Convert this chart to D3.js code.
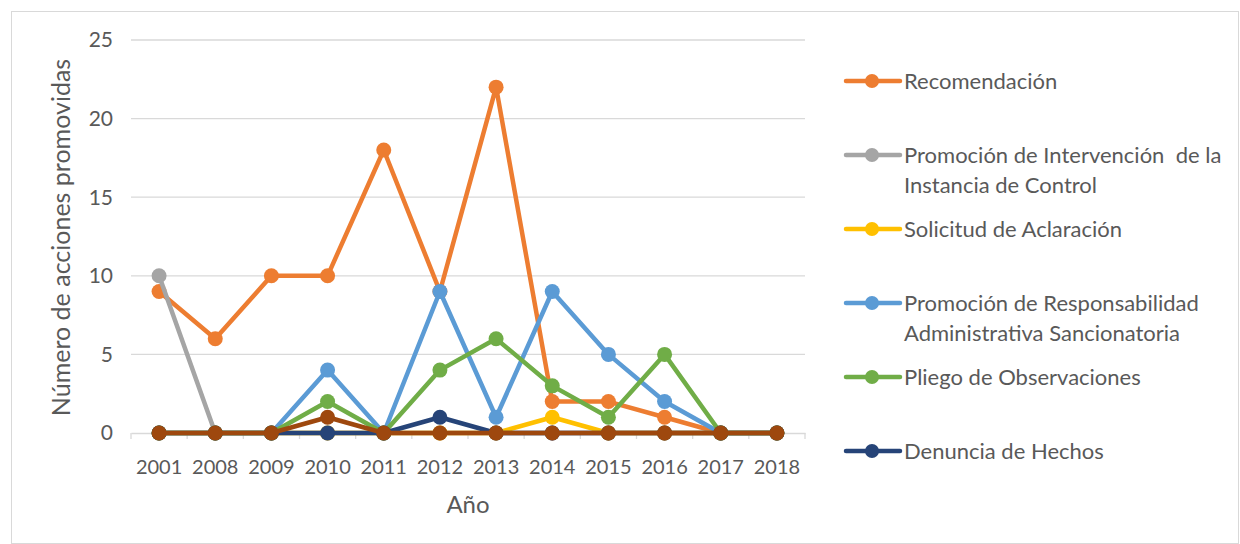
<!DOCTYPE html>
<html>
<head>
<meta charset="utf-8">
<script src="https://cdn.jsdelivr.net/npm/d3@7"></script>
<style>
  body { margin: 0; background: #fff; }
  svg text { font-family: Lato, "Open Sans", sans-serif; fill: #595959; }
</style>
</head>
<body>
<div id="chart"></div>
<script>
// data
var years = ["2001", "2008", "2009", "2010", "2011", "2012", "2013", "2014", "2015", "2016", "2017", "2018"];
var recomendacion = [9, 6, 10, 10, 18, 9, 22, 2, 2, 1, 0, 0];
var intervencion = [10, 0, 0, 0, 0, 0, 0, 0, 0, 0, 0, 0];
var aclaracion = [0, 0, 0, 0, 0, 0, 0, 1, 0, 0, 0, 0];
var responsabilidad = [0, 0, 0, 4, 0, 9, 1, 9, 5, 2, 0, 0];
var pliego = [0, 0, 0, 2, 0, 4, 6, 3, 1, 5, 0, 0];
var denuncia = [0, 0, 0, 0, 0, 1, 0, 0, 0, 0, 0, 0];
var otra = [0, 0, 0, 1, 0, 0, 0, 0, 0, 0, 0, 0];
var yTicks = [0, 5, 10, 15, 20, 25];

var series = [
    { name: ["Recomendación"], values: recomendacion, color: "#ED7D31" },
    { name: ["Promoción de Intervención  de la", "Instancia de Control"], values: intervencion, color: "#A5A5A5" },
    { name: ["Solicitud de Aclaración"], values: aclaracion, color: "#FFC000" },
    { name: ["Promoción de Responsabilidad", "Administrativa Sancionatoria"], values: responsabilidad, color: "#5B9BD5" },
    { name: ["Pliego de Observaciones"], values: pliego, color: "#70AD47" },
    { name: ["Denuncia de Hechos"], values: denuncia, color: "#264478" },
    { name: null, values: otra, color: "#9E480E" }
];
var legendY = [81, 155, 229, 303, 377, 451];

var width = 1240, height = 544;
var plot = { left: 131, right: 805, top: 40, bottom: 433 };

var svg = d3.select("#chart")
    .append("svg")
    .attr("width", width)
    .attr("height", height);

svg.append("rect")
    .attr("x", 11.5).attr("y", 11.5)
    .attr("width", width - 13).attr("height", height - 12)
    .attr("fill", "#fff")
    .attr("stroke", "#d9d9d9");

var xScale = d3.scaleBand()
    .domain(years)
    .range([plot.left, plot.right]);

var yScale = d3.scaleLinear()
    .domain([0, 25])
    .range([plot.bottom, plot.top]);

// grid
svg.append("g")
    .selectAll("line")
    .data(yTicks.filter(function(d){ return d > 0; }))
    .enter()
    .append("line")
    .attr("x1", plot.left).attr("x2", plot.right)
    .attr("y1", function(d){ return yScale(d); })
    .attr("y2", function(d){ return yScale(d); })
    .attr("stroke", "#d9d9d9")
    .attr("stroke-width", 1.3);

// y labels
svg.append("g")
    .selectAll("text")
    .data(yTicks)
    .enter()
    .append("text")
    .attr("x", 113)
    .attr("y", function(d){ return yScale(d); })
    .attr("dy", "0.35em")
    .attr("text-anchor", "end")
    .attr("font-size", 21)
    .text(function(d){ return d; });

// x axis
var xAxis = d3.axisBottom(xScale).tickSize(0).tickPadding(27);
var gx = svg.append("g")
    .attr("transform", "translate(0," + plot.bottom + ")")
    .call(xAxis);
gx.select(".domain").attr("stroke", "#d9d9d9").attr("stroke-width", 1.3);
gx.selectAll("text")
    .attr("font-size", 20)
    .attr("font-family", "Lato, sans-serif")
    .attr("fill", "#595959");
gx.selectAll(".bound")
    .data(d3.range(years.length + 1))
    .enter()
    .append("line")
    .attr("class", "bound")
    .attr("x1", function(i){ return plot.left + i * xScale.step(); })
    .attr("x2", function(i){ return plot.left + i * xScale.step(); })
    .attr("y1", 0).attr("y2", 6)
    .attr("stroke", "#d9d9d9")
    .attr("stroke-width", 1.3);

// axis titles
svg.append("text")
    .attr("x", 468).attr("y", 513)
    .attr("text-anchor", "middle")
    .attr("font-size", 24)
    .text("Año");

svg.append("text")
    .attr("transform", "translate(70," + ((plot.top + plot.bottom) / 2 + 1) + ") rotate(-90)")
    .attr("text-anchor", "middle")
    .attr("font-size", 25)
    .text("Número de acciones promovidas");

// lines
var linePath = d3.line()
    .x(function(d, i){ return xScale(years[i]) + xScale.bandwidth() / 2; })
    .y(function(d){ return yScale(d); });

series.forEach(function(s) {
    var g = svg.append("g");
    g.append("path")
        .attr("d", linePath(s.values))
        .attr("fill", "none")
        .attr("stroke", s.color)
        .attr("stroke-width", 4.5)
        .attr("stroke-linejoin", "round")
        .attr("stroke-linecap", "round");
    g.selectAll("circle")
        .data(s.values)
        .enter()
        .append("circle")
        .attr("cx", function(d, i){ return xScale(years[i]) + xScale.bandwidth() / 2; })
        .attr("cy", function(d){ return yScale(d); })
        .attr("r", 7.5)
        .attr("fill", s.color);
});

// legend
var legend = svg.append("g");
series.forEach(function(s, i) {
    if (!s.name) return;
    var y = legendY[i];
    legend.append("line")
        .attr("x1", 846).attr("x2", 900)
        .attr("y1", y).attr("y2", y)
        .attr("stroke", s.color)
        .attr("stroke-width", 4.5)
        .attr("stroke-linecap", "round");
    legend.append("circle")
        .attr("cx", 872).attr("cy", y).attr("r", 7)
        .attr("fill", s.color);
    s.name.forEach(function(t, j) {
        legend.append("text")
            .attr("x", 904)
            .attr("y", y + j * 30)
            .attr("dy", "0.35em")
            .attr("font-size", 22)
            .style("white-space", "pre")
            .text(t);
    });
});
</script>
</body>
</html>
